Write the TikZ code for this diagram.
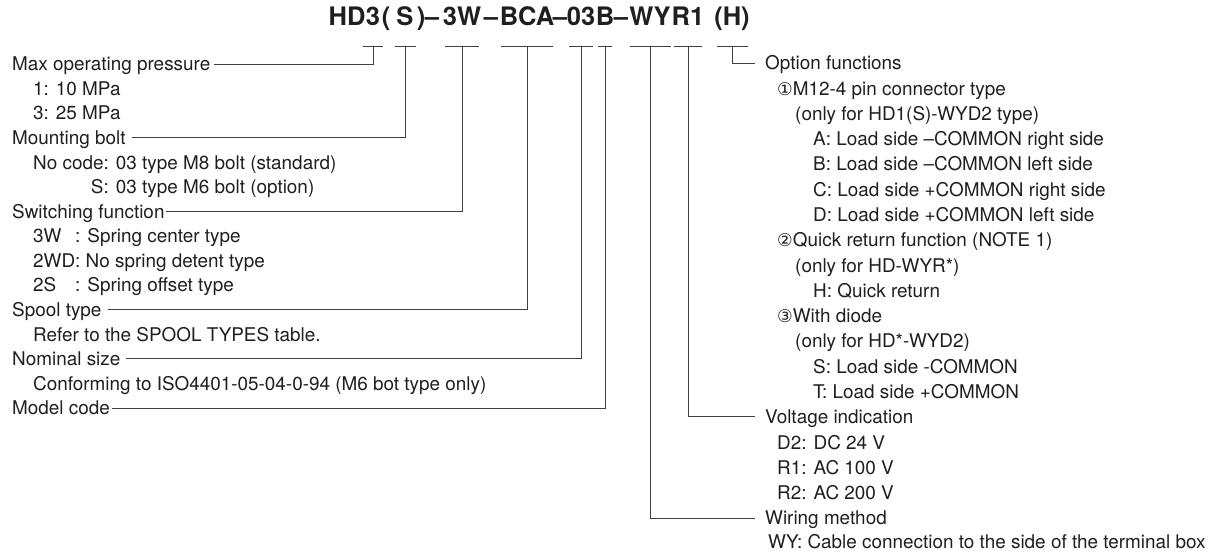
\documentclass[tikz,border=0pt]{standalone}
\usepackage{fontspec}
\setmainfont{TeX Gyre Heros}
\newfontfamily\circfont{DejaVu Sans}
\usetikzlibrary{positioning}

\newcommand\bodyfont{\fontsize{18.9}{22}\selectfont}
\newcommand\titlefont{\fontsize{25.5}{30}\selectfont\bfseries}
\newcommand\circnum[1]{{\circfont\fontsize{17.5}{17.5}\selectfont #1}}

\tikzset{
  item/.style={anchor=west, inner sep=0pt, text height=13.6pt, text depth=0pt, font=\bodyfont, text=black!88},
  code/.style={anchor=base, inner sep=0pt, font=\titlefont, text=black!88},
  lead/.style={draw=black!75, line width=0.9pt},
}

\begin{document}
\begin{tikzpicture}[x=1pt, y=-1pt]
  \useasboundingbox (0,0) rectangle (1219,551);

  % model code
  \node[code] (t3) at (373,26) {3};
  \node[code, base left=0pt of t3] (tHD) {HD};
  \node[code] (tpo) at (386,26) {(};
  \node[code] (tS) at (405,26) {S};
  \node[code] (tpc) at (421,26) {)};
  \node[code] (td1) at (432,26) {–};
  \node[code] (t3W) at (462,26) {3W};
  \node[code] (td2) at (491,26) {–};
  \node[code] (tBCA) at (527,26) {BCA};
  \node[code] (td3) at (560,26) {–};
  \node[code] (t03) at (581,26) {03};
  \node[code] (tB) at (605,26) {B};
  \node[code] (td4) at (621,26) {–};
  \node[code] (tWY) at (650,26) {WY};
  \node[code] (tR1) at (688,26) {R1};
  \node[code] (tH) at (732,26) {(H)};

  \foreach \c/\w in {t3/10, tS/10.5, t3W/17, tBCA/26, t03/12, tB/7, tWY/20.5, tR1/14, tH/15.5}
    \draw[lead] ([xshift=-\w pt, yshift=-20pt]\c.base) -- ([xshift=\w pt, yshift=-20pt]\c.base);

  % left column
  \node[item] (pres) at (12,64) {Max operating pressure};
  \node[item] (pres1) at (33,88.6) {1: 10 MPa};
  \node[item] (pres3) at (33,113.1) {3: 25 MPa};
  \node[item] (bolt) at (12,137.7) {Mounting bolt};
  \node[item] (boltN) at (33,162.3) {No code: 03 type M8 bolt (standard)};
  \node[item] (boltS) at (33,186.9) {\hphantom{No code}\llap{S}: 03 type M6 bolt (option)};
  \node[item] (swit) at (12,211.4) {Switching function};
  \node[item] (swit3W) at (33,236) {\rlap{3W}\hphantom{2WD}: Spring center type};
  \node[item] (swit2WD) at (33,260.6) {2WD: No spring detent type};
  \node[item] (swit2S) at (33,285.1) {\rlap{2S}\hphantom{2WD}: Spring offset type};
  \node[item] (spool) at (12,309.7) {Spool type};
  \node[item] (spoolR) at (33,334.3) {Refer to the SPOOL TYPES table.};
  \node[item] (nom) at (12,358.8) {Nominal size};
  \node[item] (nomC) at (33,383.4) {Conforming to ISO4401-05-04-0-94 (M6 bot type only)};
  \node[item] (model) at (12,408) {Model code};

  % right column
  \node[item] (opt) at (765,63) {Option functions};
  \node[item] (opt1) at (777,88.3) {\circnum{①}M12-4 pin connector type};
  \node[item] (opt1a) at (795,113.6) {(only for HD1(S)-WYD2 type)};
  \node[item] (opt1A) at (813,138.8) {A: Load side –COMMON right side};
  \node[item] (opt1B) at (813,164.1) {B: Load side –COMMON left side};
  \node[item] (opt1C) at (813,189.4) {C: Load side +COMMON right side};
  \node[item] (opt1D) at (813,214.7) {D: Load side +COMMON left side};
  \node[item] (opt2) at (777,240) {\circnum{②}Quick return function (NOTE 1)};
  \node[item] (opt2a) at (795,265.2) {(only for HD-WYR*)};
  \node[item] (opt2H) at (813,290.5) {H: Quick return};
  \node[item] (opt3) at (777,315.8) {\circnum{③}With diode};
  \node[item] (opt3a) at (795,341.1) {(only for HD*-WYD2)};
  \node[item] (opt3S) at (813,366.4) {S: Load side -COMMON};
  \node[item] (opt3T) at (813,391.6) {T: Load side +COMMON};
  \node[item] (volt) at (765,416.9) {Voltage indication};
  \node[item] (voltD2) at (777,442.2) {D2: DC 24 V};
  \node[item] (voltR1) at (777,467.5) {R1: AC 100 V};
  \node[item] (voltR2) at (777,492.8) {R2: AC 200 V};
  \node[item] (wire) at (765,518) {Wiring method};
  \node[item] (wireWY) at (768,541.8) {WY: Cable connection to the side of the terminal box};

  % leaders
  \draw[lead] ([yshift=-20pt]t3.base) |- ([xshift=4pt]pres.east);
  \draw[lead] ([yshift=-20pt]tS.base) |- ([xshift=6pt]bolt.east);
  \draw[lead] ([yshift=-20pt]t3W.base) |- ([xshift=1pt]swit.east);
  \draw[lead] ([yshift=-20pt]tBCA.base) |- ([xshift=6pt]spool.east);
  \draw[lead] ([yshift=-20pt]t03.base) |- ([xshift=5pt]nom.east);
  \draw[lead] ([yshift=-20pt]tB.base) |- ([xshift=2pt]model.east);
  \draw[lead] ([yshift=-20pt]tWY.base) |- ([xshift=-10pt]wire.west);
  \draw[lead] ([yshift=-20pt]tR1.base) |- ([xshift=-10pt]volt.west);
  \draw[lead] ([yshift=-20pt]tH.base) |- ([xshift=-10pt]opt.west);
\end{tikzpicture}
\end{document}
